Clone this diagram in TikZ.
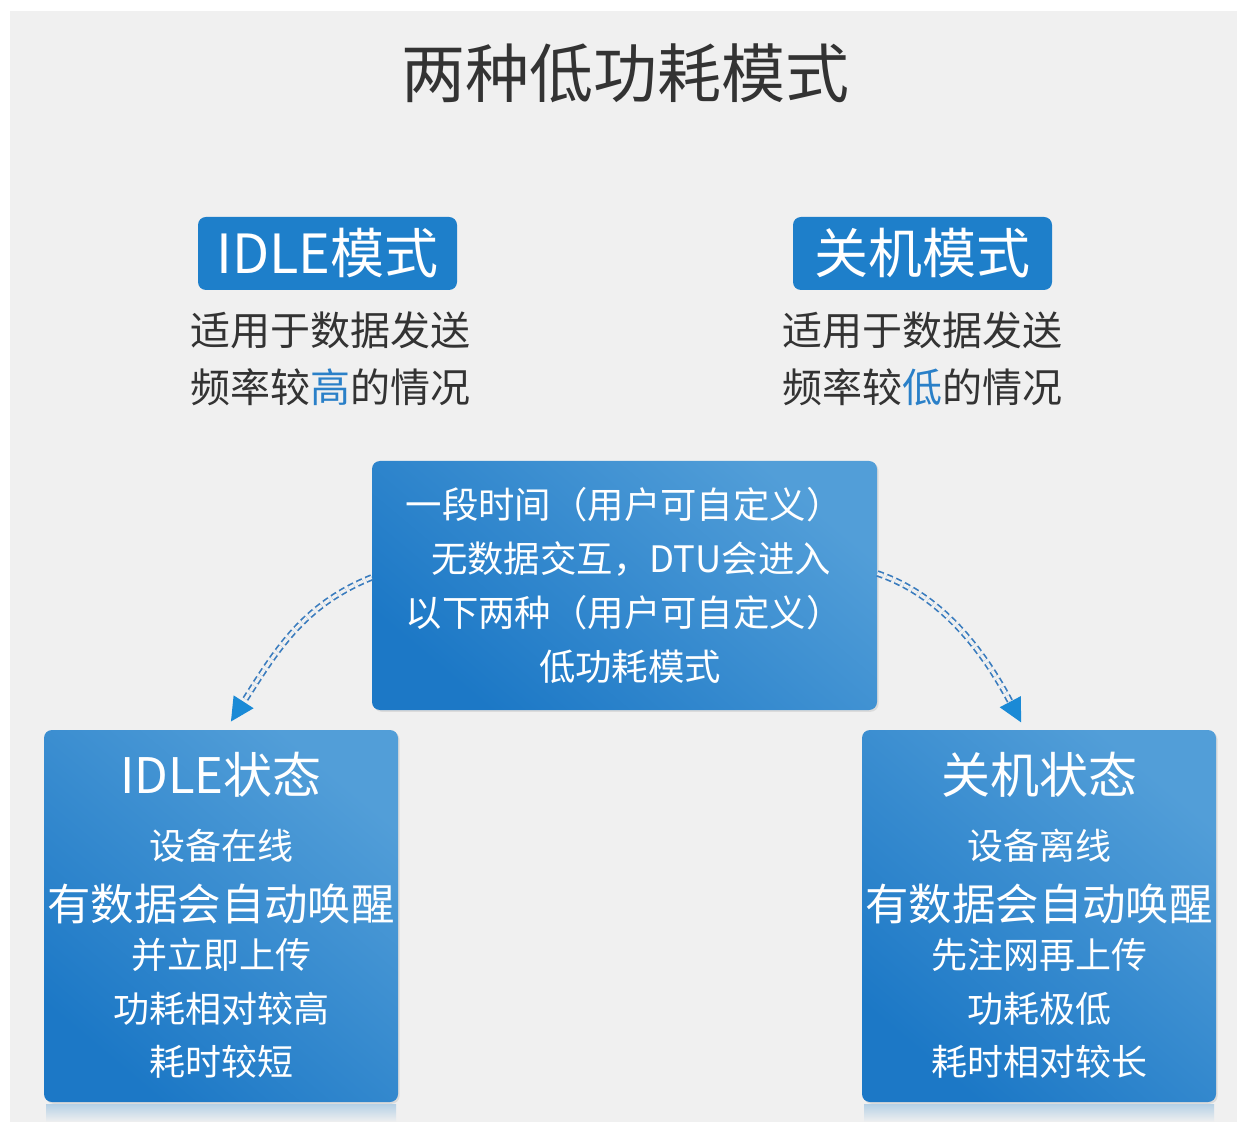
\documentclass[tikz,border=0pt]{standalone}
\usepackage{fontspec}
\setmainfont{Noto Sans CJK SC}
\usetikzlibrary{arrows.meta,shadows}
\definecolor{bg}{HTML}{F0F0F0}
\definecolor{hdr}{HTML}{1E7FCA}
\definecolor{bdark}{HTML}{1C78C6}
\definecolor{blight}{HTML}{529ED8}
\definecolor{ink}{HTML}{333333}
\definecolor{hl}{HTML}{2A80C8}
\definecolor{arr}{HTML}{1A8AD6}
\definecolor{dashc}{HTML}{3A7CBE}
\begin{document}
\begin{tikzpicture}[x=0.5pt,y=-0.5pt,
  hdrbox/.style={fill=hdr, rounded corners=4pt, text=white, font=\fontsize{27}{30}\selectfont,
    minimum width=129.5pt, minimum height=36.5pt, inner sep=0pt},
  gbox/.style={rounded corners=4pt, top color=blight, bottom color=bdark, shading angle=-40,
    drop shadow={opacity=0.18, shadow xshift=0.8pt, shadow yshift=-0.9pt}, inner sep=0pt},
  subtxt/.style={text=ink, inner sep=0pt, font=\fontsize{20}{22}\selectfont},
  midtxt/.style={text=white, inner sep=0pt, font=\fontsize{18.2}{20}\selectfont},
  wtxt/.style={text=white, inner sep=0pt, font=\fontsize{18}{20}\selectfont},
  wtitle/.style={text=white, inner sep=0pt, font=\fontsize{24.5}{27}\selectfont},
  wbig/.style={text=white, inner sep=0pt, font=\fontsize{21.7}{24}\selectfont},
  dline/.style={draw=dashc, line width=0.85pt, dash pattern=on 3pt off 1.8pt, double=bg, double distance=1.6pt},
  tipline/.style={draw=arr, draw opacity=0, line width=0.8pt, -{Triangle[length=13pt,width=13pt,fill=arr]}}
]
\useasboundingbox (0,0) rectangle (1237,1122);
\fill[white] (0,0) rectangle (1237,1122);
\fill[bg] (10,11) rectangle (1237,1122);

% title
\node[text=ink, inner sep=0pt, font=\fontsize{32}{36}\selectfont] (title) at (625,73) {两种低功耗模式};

% mode headers
\node[hdrbox] (hidle) at (327.5,253.5) {IDLE模式};
\node[hdrbox] (hoff) at (922.5,253.5) {关机模式};
\node[subtxt] (sidle1) at (330,330) {适用于数据发送};
\node[subtxt] (sidle2) at (330,387) {频率较\textcolor{hl}{高}的情况};
\node[subtxt] (soff1) at (922,330) {适用于数据发送};
\node[subtxt] (soff2) at (922,387) {频率较\textcolor{hl}{低}的情况};

% center box
\node[gbox, minimum width=252.5pt, minimum height=124.5pt] (mid) at (624.5,585.5) {};
\node[midtxt] (m1) at (624,505) {一段时间（用户可自定义）};
\node[midtxt] (m2) at (631,559) {无数据交互，DTU会进入};
\node[midtxt] (m3) at (624,613) {以下两种（用户可自定义）};
\node[midtxt] (m4) at (630,667) {低功耗模式};

% reflections
\shade[top color=hdr!28!bg, bottom color=bg] (46,1104) rectangle (396,1122);
\shade[top color=hdr!28!bg, bottom color=bg] (864,1104) rectangle (1214,1122);

% bottom boxes
\node[gbox, minimum width=177pt, minimum height=186pt] (idle) at (221,916) {};
\node[wtitle] (it) at (221,775) {IDLE状态};
\node[wtxt] (i1) at (221,846) {设备在线};
\node[wbig] (i2) at (221,904) {有数据会自动唤醒};
\node[wtxt] (i3) at (221,955) {并立即上传};
\node[wtxt] (i4) at (221,1009) {功耗相对较高};
\node[wtxt] (i5) at (221,1062) {耗时较短};

\node[gbox, minimum width=177pt, minimum height=186pt] (off) at (1039,916) {};
\node[wtitle] (ot) at (1039,775) {关机状态};
\node[wtxt] (o1) at (1039,846) {设备离线};
\node[wbig] (o2) at (1039,904) {有数据会自动唤醒};
\node[wtxt] (o3) at (1039,955) {先注网再上传};
\node[wtxt] (o4) at (1039,1009) {功耗极低};
\node[wtxt] (o5) at (1039,1062) {耗时相对较长};

% connectors
\coordinate (ltip) at (230,723);
\coordinate (rtip) at (1022,724);
\draw[dline, shorten >=12pt] ([yshift=4pt]mid.west) .. controls +(-70,28) and +(45,-70) .. (ltip);
\draw[tipline] ([yshift=4pt]mid.west) .. controls +(-70,28) and +(45,-70) .. (ltip);
\draw[dline, shorten >=12pt] ([yshift=6pt]mid.east) .. controls +(65,22) and +(-38,-72) .. (rtip);
\draw[tipline] ([yshift=6pt]mid.east) .. controls +(65,22) and +(-38,-72) .. (rtip);
\end{tikzpicture}
\end{document}
